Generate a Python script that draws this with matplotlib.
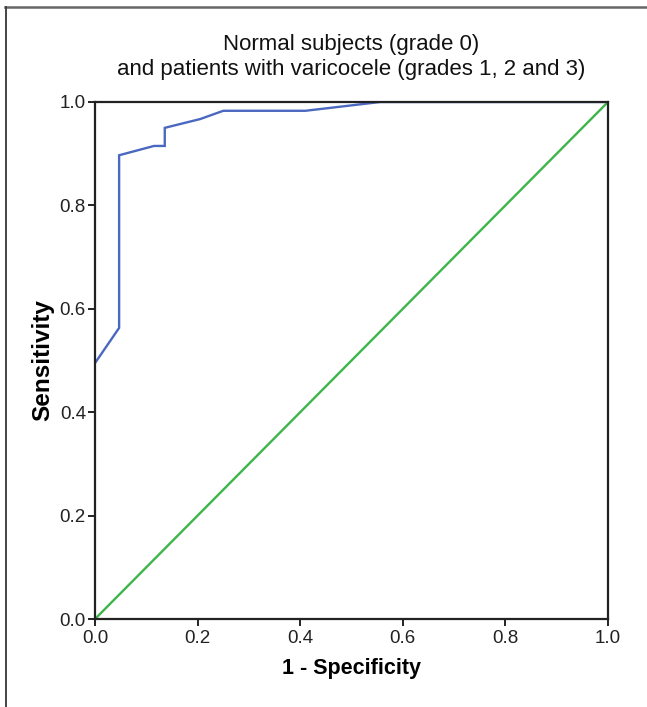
import matplotlib
matplotlib.use("Agg")
import matplotlib.pyplot as plt
from matplotlib.lines import Line2D

plt.rcParams["font.family"] = ["Liberation Sans", "DejaVu Sans"]

# ROC curve
fpr = [0.0, 0.047, 0.047, 0.115, 0.136, 0.136, 0.205, 0.25, 0.41, 0.556, 1.0]
tpr = [0.495, 0.563, 0.897, 0.915, 0.915, 0.950, 0.967, 0.983, 0.983, 1.0, 1.0]
ref_line = [0.0, 1.0]
ticks = [0.0, 0.2, 0.4, 0.6, 0.8, 1.0]
tick_labels = ["0.0", "0.2", "0.4", "0.6", "0.8", "1.0"]

W, H = 647, 707
fig = plt.figure(figsize=(W / 100, H / 100), dpi=100)
ax = fig.add_axes([95 / W, 1 - 619 / H, 513 / W, 517 / H])

ax.plot(fpr, tpr, color="#4a68c0", lw=1.7, solid_joinstyle="miter")
ax.plot(ref_line, ref_line, color="#3cb54a", lw=1.7)

ax.set_xlim(0, 1)
ax.set_ylim(0, 1)
ax.set_xticks(ticks)
ax.set_xticklabels(tick_labels)
ax.set_yticks(ticks)
ax.set_yticklabels(tick_labels)
ax.tick_params(direction="out", length=5, width=1.4, labelsize=13.5, pad=1.5, colors="#222222")
ax.tick_params(axis="x", pad=3)
for sp in ax.spines.values():
    sp.set_linewidth(1.6)
    sp.set_color("#222222")

ax.set_xlabel("1 - Specificity", fontsize=15.5, fontweight="bold", labelpad=8)
ax.set_ylabel("Sensitivity", fontsize=17.5, fontweight="bold", labelpad=4)
fig.text(0.5 * (95 + 608) / W, 1 - 57 / H,
         "Normal subjects (grade 0)\nand patients with varicocele (grades 1, 2 and 3)",
         ha="center", va="center", fontsize=16, linespacing=1.2, color="#111111")

# outer frame of the figure panel
fig.add_artist(Line2D([5 / W, 1.0], [1 - 7 / H, 1 - 7 / H], color="#666666", lw=1.8,
                      transform=fig.transFigure))
fig.add_artist(Line2D([6 / W, 6 / W], [0.0, 1 - 7 / H], color="#444444", lw=1.4,
                      transform=fig.transFigure))

fig.savefig("out.png", dpi=100)
